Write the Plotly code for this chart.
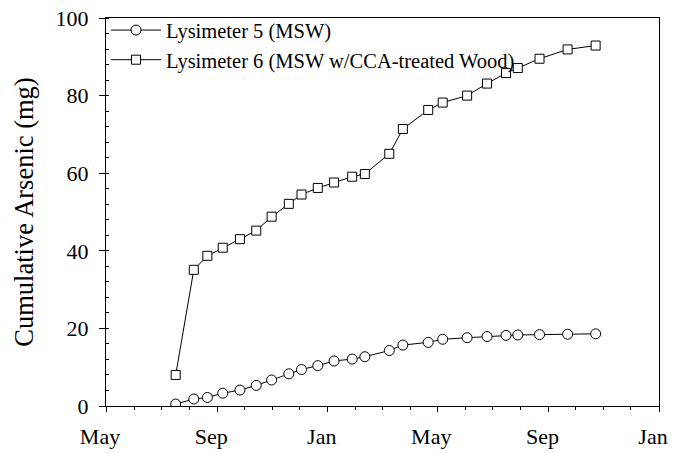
import plotly.graph_objects as go

dates = [
    "1995-07-17", "1995-08-06", "1995-08-21", "1995-09-07", "1995-09-26",
    "1995-10-14", "1995-10-31", "1995-11-19", "1995-12-03", "1995-12-21",
    "1996-01-08", "1996-01-28", "1996-02-11", "1996-03-09", "1996-03-24",
    "1996-04-21", "1996-05-07", "1996-06-03", "1996-06-25", "1996-07-16",
    "1996-07-29", "1996-08-22", "1996-09-22", "1996-10-23",
]
lys5 = [0.5, 1.8, 2.2, 3.3, 4.1, 5.3, 6.7, 8.3, 9.4, 10.4,
        11.6, 12.1, 12.7, 14.3, 15.7, 16.4, 17.2, 17.6, 17.9, 18.2,
        18.3, 18.4, 18.5, 18.6]
lys6 = [8.0, 35.1, 38.7, 40.8, 43.0, 45.2, 48.8, 52.1, 54.5, 56.2,
        57.6, 59.1, 59.8, 65.0, 71.4, 76.3, 78.2, 80.0, 83.1, 85.8,
        87.1, 89.5, 91.9, 92.9]
names = ["Lysimeter 5 (MSW)", "Lysimeter 6 (MSW w/CCA-treated Wood)"]

FONT = "Liberation Serif"

fig = go.Figure()
fig.add_trace(go.Scatter(
    x=dates, y=lys5, name=names[0], mode="lines+markers",
    line=dict(color="black", width=1),
    marker=dict(symbol="circle", size=10, color="white",
                line=dict(color="black", width=1)),
))
fig.add_trace(go.Scatter(
    x=dates, y=lys6, name=names[1], mode="lines+markers",
    line=dict(color="black", width=1),
    marker=dict(symbol="square", size=9, color="white",
                line=dict(color="black", width=1)),
))

fig.update_layout(
    width=673, height=453,
    margin=dict(l=106, r=14, t=18, b=47, autoexpand=False),
    paper_bgcolor="white", plot_bgcolor="white",
    font=dict(family=FONT, color="black", size=22),
    showlegend=True,
    legend=dict(x=0.0, y=1.02, xanchor="left", yanchor="top",
                bgcolor="rgba(0,0,0,0)", borderwidth=0,
                itemwidth=50,
                font=dict(family=FONT, size=20.5, color="black"),
                tracegroupgap=0),
)
fig.update_xaxes(
    type="date", range=["1995-05-01", "1997-01-01"], automargin=False,
    tick0="1995-05-01", dtick="M4", tickformat="%b",
    showline=True, linecolor="black", linewidth=1, mirror=True,
    ticks="outside", ticklen=5, tickcolor="black", tickwidth=1,
    showgrid=False, zeroline=False,
    tickfont=dict(family=FONT, size=22, color="black"),
    ticklabelshift=-6, ticklabelstandoff=6,
    minor=dict(dtick="M1", tick0="1995-05-01", ticks="outside", ticklen=3,
               tickcolor="black", tickwidth=1, showgrid=False),
)
fig.update_yaxes(
    range=[0, 100], dtick=20, tick0=0, automargin=False,
    showline=True, linecolor="black", linewidth=1, mirror=True,
    ticks="outside", ticklen=6, tickcolor="black", tickwidth=1,
    showgrid=False, zeroline=False,
    tickfont=dict(family=FONT, size=22, color="black"),
    ticklabelstandoff=6,
    title=dict(text="Cumulative Arsenic (mg)", standoff=14,
               font=dict(family=FONT, size=26.5, color="black")),
    minor=dict(dtick=4, ticks="inside", ticklen=3, tickcolor="black",
               tickwidth=1, showgrid=False),
)

fig.write_html(
    "out.html",
    config={"displayModeBar": False},
    post_script="document.body.style.margin='0';document.body.style.padding='0';",
)
